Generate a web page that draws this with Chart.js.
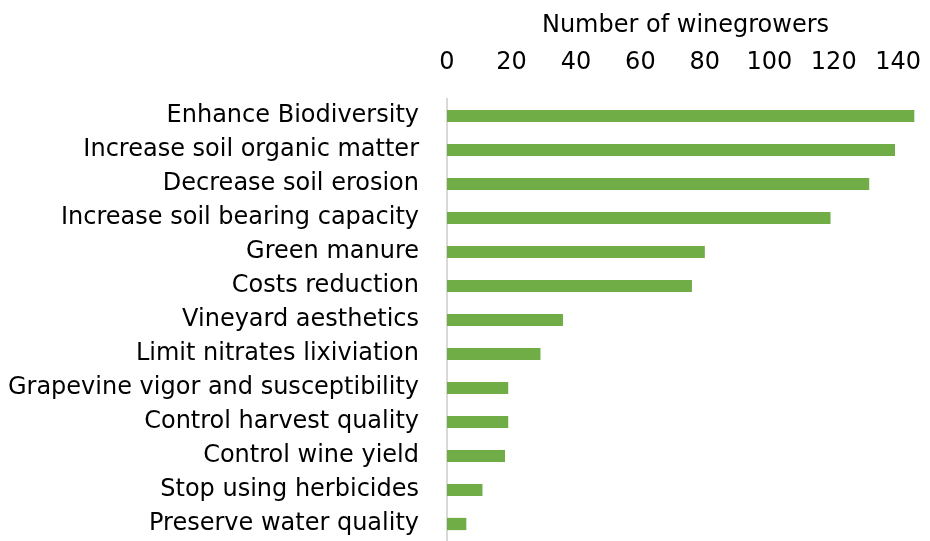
<!DOCTYPE html>
<html>
<head>
<meta charset="utf-8">
<script src="https://cdn.jsdelivr.net/npm/chart.js@4.4.1/dist/chart.umd.min.js"></script>
<style>
  html, body { margin: 0; padding: 0; background: #fff; overflow: hidden; }
  canvas { display: block; }
</style>
</head>
<body>
<canvas id="chart" width="930" height="541"></canvas>
<script>
const reasons = [
    'Enhance Biodiversity',
    'Increase soil organic matter',
    'Decrease soil erosion',
    'Increase soil bearing capacity',
    'Green manure',
    'Costs reduction',
    'Vineyard aesthetics',
    'Limit nitrates lixiviation',
    'Grapevine vigor and susceptibility',
    'Control harvest quality',
    'Control wine yield',
    'Stop using herbicides',
    'Preserve water quality'
];
const winegrowers = [145, 139, 131, 119, 80, 76, 36, 29, 19, 19, 18, 11, 6];
const xTicks = [0, 20, 40, 60, 80, 100, 120, 140];

const font = { family: 'DejaVu Sans', size: 24 };

new Chart(document.getElementById('chart').getContext('2d'), {
    type: 'bar',
    data: {
        labels: reasons,
        datasets: [{
            label: 'Number of winegrowers',
            data: winegrowers,
            backgroundColor: '#70AD47',
            borderWidth: 0,
            barPercentage: 0.72,
            categoryPercentage: 0.5
        }]
    },
    options: {
        indexAxis: 'y',
        responsive: false,
        animation: false,
        layout: { padding: { left: 0, right: 6, top: 2, bottom: 0 } },
        plugins: { legend: { display: false }, tooltip: { enabled: false } },
        scales: {
            x: {
                position: 'top',
                min: 0,
                max: 148,
                afterBuildTicks: (scale) => { scale.ticks = xTicks.map(v => ({ value: v })); },
                grid: { display: false },
                border: { display: false },
                ticks: { color: '#000', font: font, padding: 14, maxRotation: 0 },
                title: { display: true, text: 'Number of winegrowers', color: '#000', font: font, padding: { top: 9, bottom: 0 } },
                afterFit: (scale) => { scale.height = 97; scale.paddingLeft = 0; scale.paddingRight = 0; }
            },
            y: {
                grid: { display: false },
                border: { display: true, color: '#D9D9D9', width: 2 },
                ticks: { color: '#000', font: font, padding: 20, autoSkip: false },
                afterFit: (scale) => { scale.width = 447; scale.paddingTop = 0; scale.paddingBottom = 0; }
            }
        }
    }
});
</script>
</body>
</html>
